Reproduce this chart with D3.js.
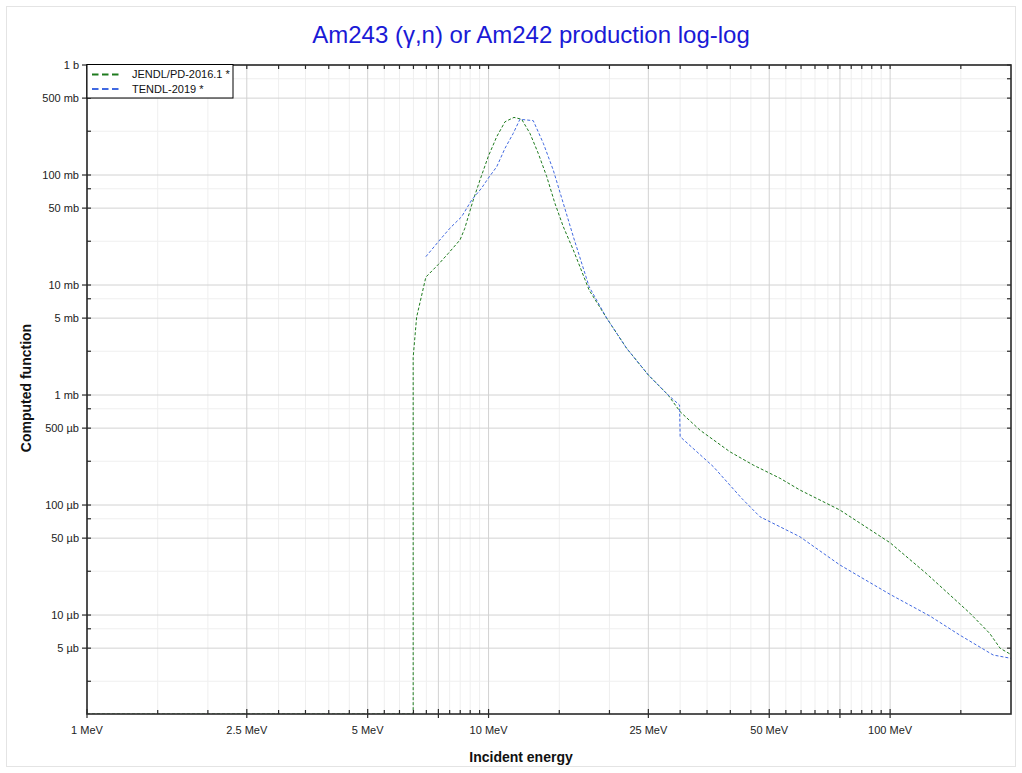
<!DOCTYPE html>
<html>
<head>
<meta charset="utf-8">
<script src="https://cdn.jsdelivr.net/npm/d3@7"></script>
<style>
  body { margin: 0; background: #fff; }
  text { font-family: "Liberation Sans", Arial, Helvetica, sans-serif; }
</style>
</head>
<body>
<svg id="chart" width="1022" height="773"></svg>
<script>
// ---------------- data ----------------
const chartTitle = "Am243 (γ,n) or Am242 production log-log";
const xAxisTitle = "Incident energy";
const yAxisTitle = "Computed function";
const seriesNames = ["JENDL/PD-2016.1 *", "TENDL-2019 *"];
const seriesColors = ["#1e7b1e", "#4169e1"];

// JENDL/PD-2016.1 : energy (MeV) and cross section (b); 0 = below plotted range
const jendlE = [1, 6.49, 6.49, 6.62, 6.98, 7.5, 7.94, 8.49, 8.72, 8.9, 9.16, 9.52, 9.98, 10.48, 10.99, 11.57, 12.09, 12.68, 13.3, 13.96, 14.63, 15.35, 16.26, 17.8, 19.7, 22.07, 25.0, 28.0, 30.0, 33.6, 39.9, 45.6, 53.2, 59.6, 75, 100, 123, 158, 177, 188, 199, 200];
const jendlV = [0, 0, 2.2e-3, 5.1e-3, 0.0118, 0.0154, 0.0194, 0.0257, 0.0325, 0.0418, 0.0593, 0.090, 0.147, 0.223, 0.305, 0.334, 0.321, 0.239, 0.157, 0.0966, 0.0553, 0.0339, 0.0208, 0.0090, 0.00498, 0.00266, 0.00152, 0.00100, 7.05e-4, 4.8e-4, 3.05e-4, 2.31e-4, 1.75e-4, 1.37e-4, 9.0e-5, 4.54e-5, 2.39e-5, 1.04e-5, 6.81e-6, 4.98e-6, 4.42e-6, 4.35e-6];

// TENDL-2019
const tendlE = [6.98, 7.5, 8.01, 8.57, 9.08, 9.6, 9.98, 10.48, 10.99, 11.52, 11.97, 12.92, 13.69, 14.49, 15.35, 16.26, 17.8, 19.7, 22.07, 25.0, 28.0, 29.9, 30.0, 36.3, 42.7, 47.4, 59.6, 75, 100, 125.6, 149, 180.6, 200];
const tendlV = [0.0181, 0.0248, 0.0328, 0.0418, 0.0593, 0.0757, 0.0933, 0.119, 0.175, 0.239, 0.321, 0.312, 0.194, 0.111, 0.0553, 0.0275, 0.00966, 0.00498, 0.00266, 0.00152, 0.00100, 8.1e-4, 4.18e-4, 2.23e-4, 1.15e-4, 7.83e-5, 5.15e-5, 2.85e-5, 1.54e-5, 9.8e-6, 6.58e-6, 4.33e-6, 4.04e-6];

// axes
const xDomain = [1, 200];
const yDomain = [1.26e-6, 1];
const xTickValues = [1, 2.5, 5, 10, 25, 50, 100];
const xTickLabels = ["1 MeV", "2.5 MeV", "5 MeV", "10 MeV", "25 MeV", "50 MeV", "100 MeV"];
const xLongTicks = [7.5, 75];
const xMinorTicks = [1.5, 2, 3, 3.5, 4, 4.5, 5.5, 6, 6.5, 7, 8, 8.5, 9, 9.5, 15, 20, 30, 35, 40, 45, 55, 60, 65, 70, 80, 85, 90, 95, 150];
const yTickValues = [1, 0.5, 0.1, 0.05, 0.01, 0.005, 0.001, 5e-4, 1e-4, 5e-5, 1e-5, 5e-6];
const yTickLabels = ["1 b", "500 mb", "100 mb", "50 mb", "10 mb", "5 mb", "1 mb", "500 µb", "100 µb", "50 µb", "10 µb", "5 µb"];
const yMinorTicks = [0.75, 0.25, 0.075, 0.025, 0.0075, 0.0025, 7.5e-4, 2.5e-4, 7.5e-5, 2.5e-5, 7.5e-6, 2.5e-6];

// ---------------- layout ----------------
const L = 87, R = 1011, T = 65, B = 714;
const svg = d3.select("#chart");

const x = d3.scaleLog().domain(xDomain).range([L, R]);
const y = d3.scaleLog().domain(yDomain).range([B, T]).clamp(true);

// outer frame
svg.append("rect").attr("x", 6.5).attr("y", 6.5).attr("width", 1009).attr("height", 760)
  .attr("fill", "#fff").attr("stroke", "#e4e4e4");

// grid
const grid = svg.append("g");
grid.selectAll(".vmin").data(xMinorTicks).join("line")
  .attr("x1", d => x(d)).attr("x2", d => x(d)).attr("y1", T).attr("y2", B)
  .attr("stroke", "#efefef").attr("stroke-width", 1);
grid.selectAll(".hmin").data(yMinorTicks).join("line")
  .attr("y1", d => y(d)).attr("y2", d => y(d)).attr("x1", L).attr("x2", R)
  .attr("stroke", "#efefef").attr("stroke-width", 1);
grid.selectAll(".vmaj").data(xTickValues.concat(xLongTicks)).join("line")
  .attr("x1", d => x(d)).attr("x2", d => x(d)).attr("y1", T).attr("y2", B)
  .attr("stroke", "#d2d2d2").attr("stroke-width", 1);
grid.selectAll(".hmaj").data(yTickValues).join("line")
  .attr("y1", d => y(d)).attr("y2", d => y(d)).attr("x1", L).attr("x2", R)
  .attr("stroke", "#d2d2d2").attr("stroke-width", 1);

// curves
svg.append("defs").append("clipPath").attr("id", "clip")
  .append("rect").attr("x", L).attr("y", T - 1).attr("width", R - L).attr("height", B - T + 1);

const line = d3.line().x(d => x(d[0])).y(d => y(Math.max(d[1], yDomain[0])));
const series = [
  d3.zip(jendlE, jendlV),
  d3.zip(tendlE, tendlV)
];
const curves = svg.append("g").attr("clip-path", "url(#clip)");
series.forEach((s, i) => {
  curves.append("path").datum(s).attr("d", line)
    .attr("fill", "none").attr("stroke", seriesColors[i])
    .attr("stroke-width", 1).attr("stroke-dasharray", "3,2");
});

// frame / axes
const ax = svg.append("g").attr("stroke", "#2a2a2a");
ax.append("rect").attr("x", L).attr("y", T).attr("width", R - L).attr("height", B - T)
  .attr("fill", "none").attr("stroke-width", 1.6);

// left ticks
ax.selectAll(".lmaj").data(yTickValues).join("line")
  .attr("x1", L - 5).attr("x2", L + 4).attr("y1", d => y(d)).attr("y2", d => y(d)).attr("stroke-width", 1.2);
ax.selectAll(".lmin").data(yMinorTicks).join("line")
  .attr("x1", L).attr("x2", L + 4).attr("y1", d => y(d)).attr("y2", d => y(d)).attr("stroke-width", 1.2);
// right ticks
ax.selectAll(".rmaj").data(yTickValues.concat(yMinorTicks)).join("line")
  .attr("x1", R - 4).attr("x2", R).attr("y1", d => y(d)).attr("y2", d => y(d)).attr("stroke-width", 1.2);
// bottom ticks
ax.selectAll(".bmaj").data(xTickValues.concat(xLongTicks)).join("line")
  .attr("y1", B - 5).attr("y2", B + 4).attr("x1", d => x(d)).attr("x2", d => x(d)).attr("stroke-width", 1.2);
ax.selectAll(".bmin").data(xMinorTicks).join("line")
  .attr("y1", B - 4).attr("y2", B).attr("x1", d => x(d)).attr("x2", d => x(d)).attr("stroke-width", 1.2);
// top ticks
ax.selectAll(".tmaj").data(xTickValues.concat(xLongTicks, xMinorTicks)).join("line")
  .attr("y1", T).attr("y2", T + 4).attr("x1", d => x(d)).attr("x2", d => x(d)).attr("stroke-width", 1.2);

// tick labels
svg.append("g").selectAll("text").data(yTickValues).join("text")
  .attr("x", L - 8).attr("y", d => y(d)).attr("dy", "0.35em")
  .attr("text-anchor", "end").attr("font-size", 11).attr("fill", "#222")
  .text((d, i) => yTickLabels[i]);
svg.append("g").selectAll("text").data(xTickValues).join("text")
  .attr("x", d => x(d)).attr("y", B + 20)
  .attr("text-anchor", "middle").attr("font-size", 11).attr("fill", "#222")
  .text((d, i) => xTickLabels[i]);

// axis titles
svg.append("text").attr("x", 521).attr("y", 762).attr("text-anchor", "middle")
  .attr("font-size", 14).attr("font-weight", "bold").attr("fill", "#111").text(xAxisTitle);
svg.append("text").attr("transform", "translate(31,388) rotate(-90)").attr("text-anchor", "middle")
  .attr("font-size", 14).attr("font-weight", "bold").attr("fill", "#111").text(yAxisTitle);

// title
svg.append("text").attr("x", 531).attr("y", 43).attr("text-anchor", "middle")
  .attr("font-size", 24).attr("fill", "#1a1ad6").text(chartTitle);

// legend
const lg = svg.append("g");
lg.append("rect").attr("x", L).attr("y", 64.5).attr("width", 146).attr("height", 33.5)
  .attr("fill", "#fff").attr("stroke", "#000").attr("stroke-width", 1);
seriesNames.forEach((name, i) => {
  const yy = 74.5 + i * 14.5;
  lg.append("line").attr("x1", 92).attr("x2", 119).attr("y1", yy).attr("y2", yy)
    .attr("stroke", seriesColors[i]).attr("stroke-width", 2).attr("stroke-dasharray", "6.5,3.5");
  lg.append("text").attr("x", 132).attr("y", yy).attr("dy", "0.35em")
    .attr("font-size", 11).attr("fill", "#111").text(name);
});
</script>
</body>
</html>
